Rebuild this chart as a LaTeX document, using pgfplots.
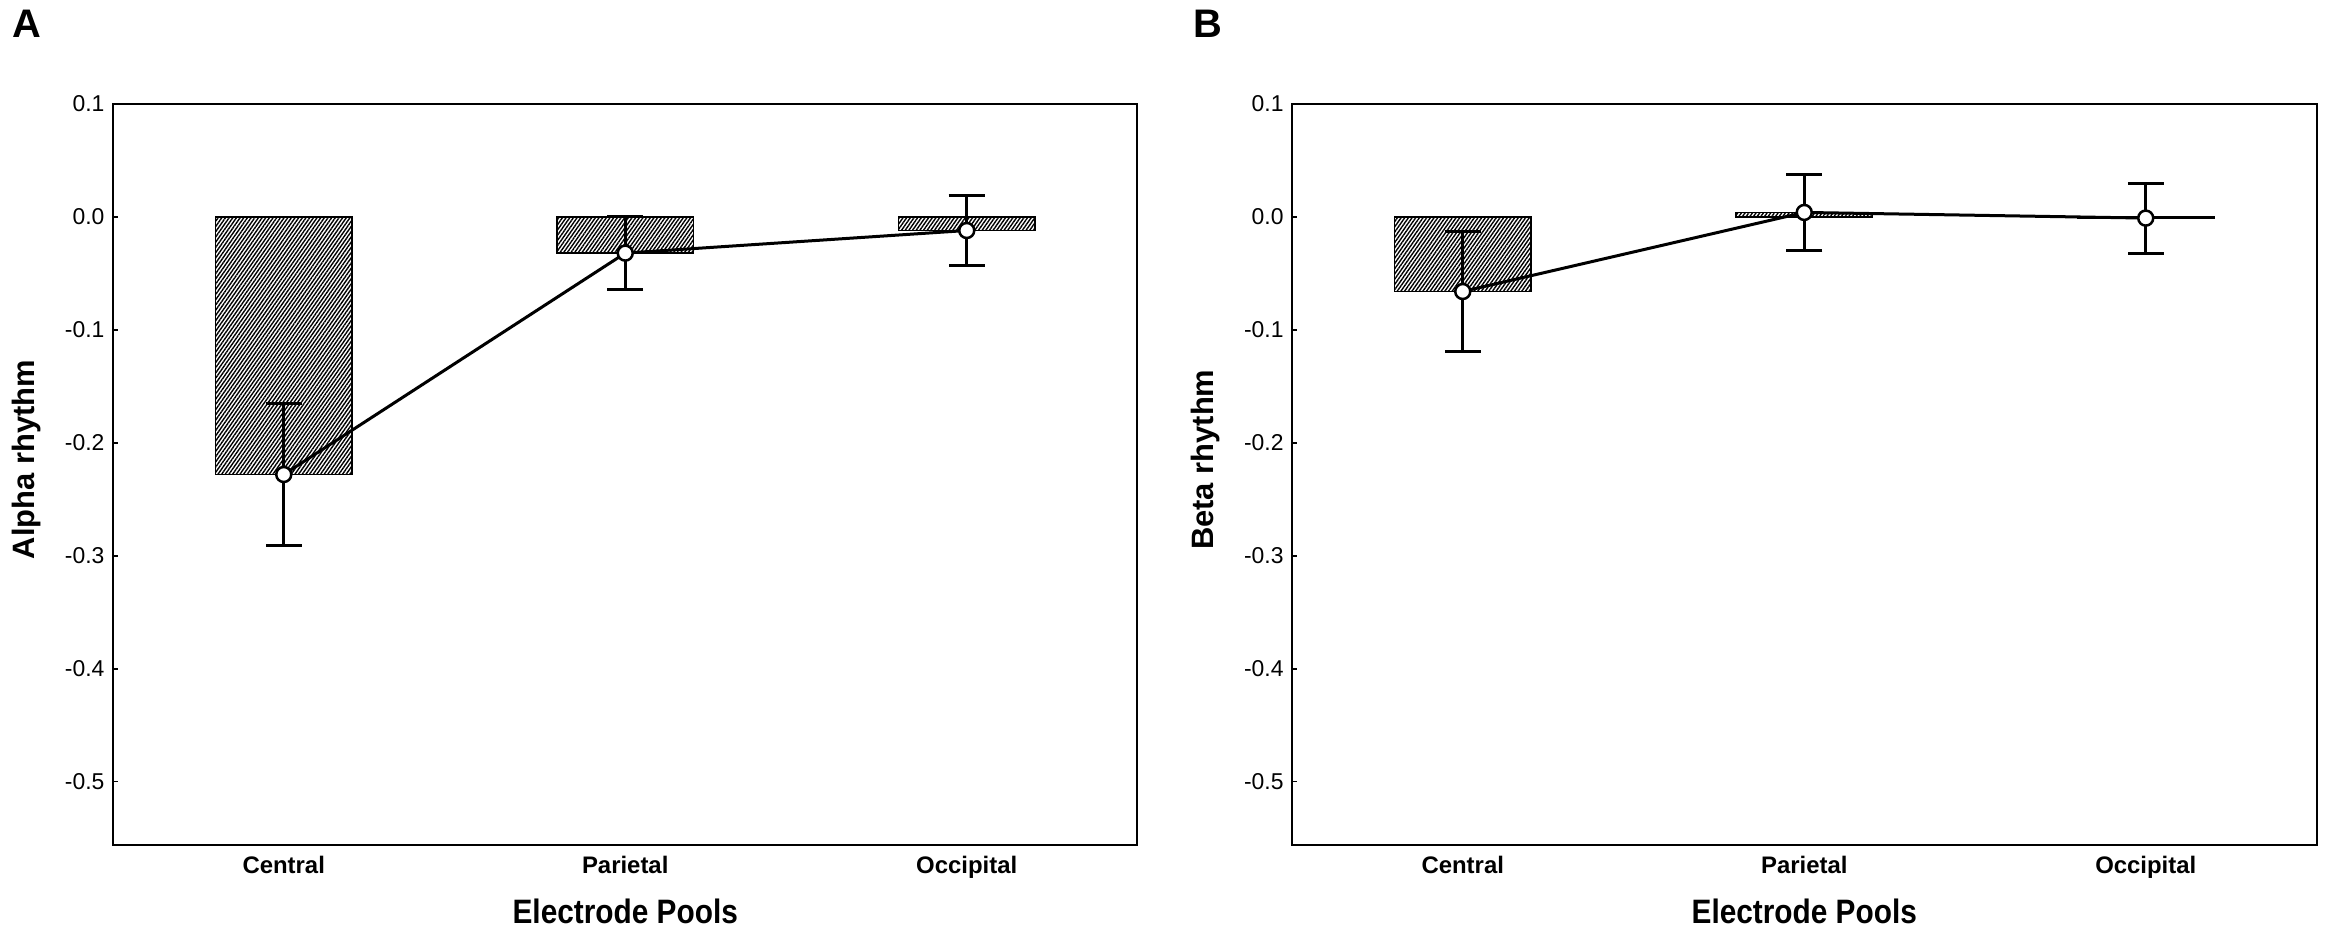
\documentclass[border=0pt]{standalone}
\usepackage{pgfplots}
\pgfplotsset{compat=1.18}
\usepackage{pgfplotstable}
\usepackage{fontspec}
\setmainfont{Liberation Sans}
\usetikzlibrary{patterns.meta}

\pgfplotstableread{
x mean err
0 -0.228 0.063
1 -0.032 0.032
2 -0.012 0.031
}\dataA
\pgfplotstableread{
x mean err
0 -0.066 0.053
1 0.004 0.034
2 -0.001 0.031
}\dataB

\pgfplotsset{
 panel/.style={
  scale only axis, width=1024.5bp, height=741bp,
  xmin=-0.5, xmax=2.5, ymin=-0.556, ymax=0.1,
  axis line style={line width=2bp},
  xtick={0,1,2}, xticklabels={Central,Parietal,Occipital},
  ytick={-0.5,-0.4,-0.3,-0.2,-0.1,0,0.1},
  yticklabels={-0.5,-0.4,-0.3,-0.2,-0.1,0.0,0.1},
  ytick pos=left,
  tick align=inside,
  major tick length=5bp,
  x tick style={draw=none},
  y tick style={line width=1.5bp, black},
  yticklabel style={font=\fontsize{23}{27}\selectfont, xshift=-5bp},
  xticklabel style={font=\bfseries\fontsize{24}{28}\selectfont, yshift=-8bp},
  xlabel={\scalebox{0.88}[1]{Electrode Pools}},
  xlabel style={at={(axis description cs:0.5,-0.09)}, anchor=center, font=\bfseries\fontsize{34}{38}\selectfont},
  ylabel style={at={(axis description cs:-0.084,0.52)}, anchor=center, font=\bfseries\fontsize{31}{36}\selectfont},
 },
 barstyle/.style={ybar, bar width=0.4, draw=black, line width=1.5bp,
  pattern={Lines[angle=55,distance=3bp,line width=1.4bp]}},
 meanstyle/.style={line width=3bp, black, mark=*, mark size=7.5bp,
  mark options={fill=white, line width=2.5bp, solid},
  error bars/.cd, y dir=both, y explicit,
  error bar style={line width=3bp},
  error mark options={rotate=90, mark size=18bp, line width=3bp}},
}

\begin{document}
\begin{tikzpicture}
\useasboundingbox (0,0) rectangle (2328bp,932bp);
\node[font=\bfseries\fontsize{40}{40}\selectfont] at (27bp,908bp) {A};
\node[font=\bfseries\fontsize{40}{40}\selectfont] at (1208bp,908bp) {B};

\begin{axis}[panel, at={(113bp,87bp)}, anchor=south west, ylabel={Alpha rhythm}]
\addplot[barstyle] table[x=x,y=mean]{\dataA};
\addplot[meanstyle] table[x=x,y=mean,y error=err]{\dataA};
\end{axis}

\begin{axis}[panel, at={(1292bp,87bp)}, anchor=south west, ylabel={Beta rhythm}]
\addplot[barstyle] table[x=x,y=mean]{\dataB};
\addplot[meanstyle] table[x=x,y=mean,y error=err]{\dataB};
\end{axis}
\end{tikzpicture}
\end{document}
